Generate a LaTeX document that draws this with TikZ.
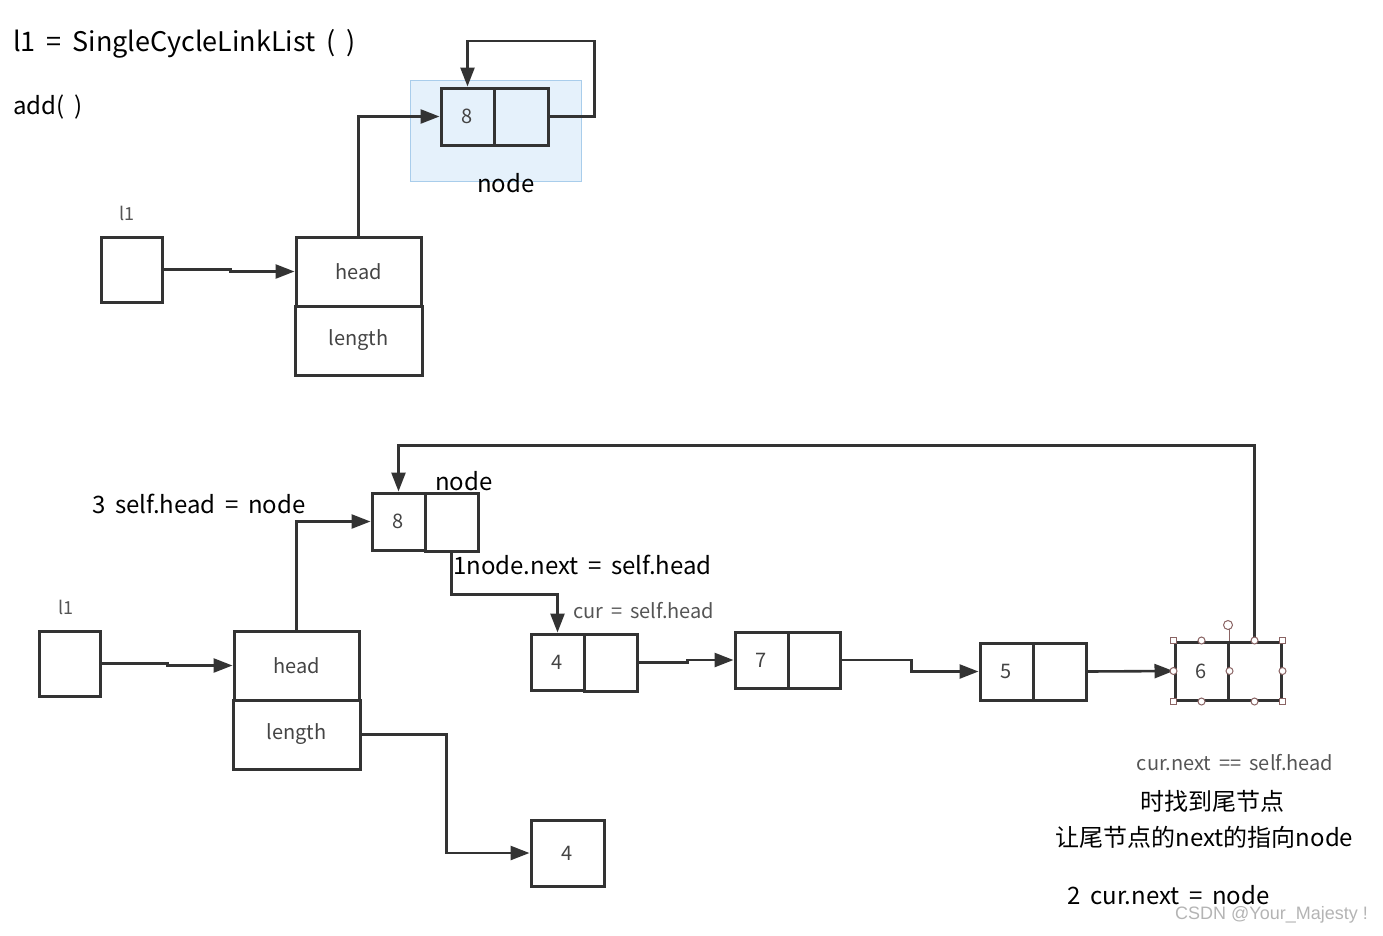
\documentclass[tikz,border=0pt]{standalone}
\usepackage{fontspec}
\setmainfont[WordSpace=1.8]{Noto Sans CJK SC}
\newfontfamily\wmfont{Liberation Sans}
\usetikzlibrary{arrows.meta,calc}
\definecolor{ln}{HTML}{333333}
\definecolor{tx}{HTML}{444444}
\definecolor{gr}{HTML}{555555}
\definecolor{hl}{HTML}{E5F1FB}
\definecolor{hlb}{HTML}{A9CDEB}
\definecolor{hd}{HTML}{8A6464}
\definecolor{wm}{HTML}{B4B4B4}
\begin{document}
\begin{tikzpicture}[x=1pt,y=-1pt,
  cell/.style={draw=ln,line width=3pt,inner sep=0pt,text=tx,font=\fontsize{20}{24}\selectfont},
  arr/.style={draw=ln,line width=2.6pt,-{Triangle[length=19pt,width=14pt]}},
  big/.style={inner sep=0pt,font=\fontsize{24}{28}\selectfont},
  small/.style={inner sep=0pt,text=gr,font=\fontsize{20}{24}\selectfont},
  hsq/.style={draw=hd,fill=white,line width=1pt,minimum size=6pt,inner sep=0pt},
  hci/.style={draw=hd,fill=white,line width=1pt,circle,minimum size=7pt,inner sep=0pt}]
\useasboundingbox (0,0) rectangle (1383,935);
% ---------- top part ----------
\fill[hl] (410,80) rectangle (581,181);
\draw[hlb,line width=1pt] (410,80) rectangle (581,181);
\node[big,anchor=west,font=\fontsize{27}{32}\selectfont] (title) at (13,44) {l1 = SingleCycleLinkList ( )};
\node[big,anchor=west] (add) at (13,107) {add( )};
\node[cell,minimum width=53pt,minimum height=57pt] (tn8a) at (467.5,116.5) {8};
\node[cell,minimum width=54pt,minimum height=57pt] (tn8b) at (521,116.5) {};
\node[big] (tnode) at (506,183) {node};
\node[small,font=\fontsize{18}{22}\selectfont] (tl1lab) at (127,213) {l1};
\node[cell,minimum width=61pt,minimum height=65pt] (tl1) at (131.5,269.5) {};
\node[cell,minimum width=125pt,minimum height=69pt] (thead) at (358.5,271.5) {head};
\node[cell,minimum width=127pt,minimum height=69pt] (tlen) at (358.5,340.5) {length};
\draw[arr] (tl1.east) -- ++(67,0) |- (thead.west);
\draw[arr] (thead.north) |- (tn8a.west);
\draw[arr] (tn8b.east) -- ++(45,0) -- ++(0,-75.5) -| (tn8a.north);
% ---------- bottom part ----------
\node[big] (bnode) at (464,481) {node};
\node[big] (step3) at (199,504) {3 self.head = node};
\node[cell,minimum width=53pt,minimum height=57pt] (bn8a) at (398.5,521.5) {8};
\node[cell,minimum width=53pt,minimum height=58pt] (bn8b) at (451.5,522) {};
\node[small,font=\fontsize{18}{22}\selectfont] (bl1lab) at (66,607) {l1};
\node[cell,minimum width=61pt,minimum height=65pt] (bl1) at (69.5,663.5) {};
\node[cell,minimum width=125pt,minimum height=69pt] (bhead) at (296.5,665.5) {head};
\node[cell,minimum width=127pt,minimum height=69pt] (blen) at (296.5,734.5) {length};
\node[big,anchor=west] (step1) at (453,565) {1node.next = self.head};
\node[small,anchor=west] (curlab) at (573,611) {cur = self.head};
\node[cell,minimum width=53pt,minimum height=56pt] (n4a) at (557.5,662) {4};
\node[cell,minimum width=53pt,minimum height=57pt] (n4b) at (610.5,662.5) {};
\node[cell,minimum width=53pt,minimum height=56pt] (n7a) at (761.5,660) {7};
\node[cell,minimum width=52pt,minimum height=56pt] (n7b) at (814,660) {};
\node[cell,minimum width=53pt,minimum height=57pt] (n5a) at (1006.5,671.5) {5};
\node[cell,minimum width=53pt,minimum height=57pt] (n5b) at (1059.5,671.5) {};
\node[cell,minimum width=53pt,minimum height=58pt] (n6a) at (1201.5,671) {6};
\node[cell,minimum width=53pt,minimum height=58pt] (n6b) at (1254.5,671) {};
\node[cell,minimum width=73pt,minimum height=66pt] (box4) at (567.5,853) {4};
\draw[arr] (bl1.east) -- ++(66,0) |- (bhead.west);
\draw[arr] (bhead.north) |- (bn8a.west);
\draw[arr] (bn8b.south) -- ++(0,42) -| (n4a.north);
\draw[arr] (n4b.east) -- ++(49,0) |- (n7a.west);
\draw[arr] (n7b.east) -- ++(70,0) |- (n5a.west);
\draw[arr] (n5b.east) -- (n6a.west);
\draw[arr] (blen.east) -- ++(85,0) |- (box4.west);
\draw[arr] (n6b.north) -- ++(0,-195) -| (bn8a.north);
% selection handles on node 6
\draw[hd,line width=1pt] (n6a.north east) -- ++(0,-12);
\node[hci,minimum size=9pt] (rot) at (1228,625) {};
\foreach \p in {(n6a.north west),(n6b.north east),(n6a.south west),(n6b.south east)}
  \node[hsq] at \p {};
\foreach \p in {(n6a.north),(n6b.north),(n6a.south),(n6b.south),(n6a.west),(n6a.east),(n6b.east)}
  \node[hci] at \p {};
% notes
\node[small,font=\fontsize{20}{24}\selectfont] (note1) at (1235,763) {cur.next == self.head};
\node[big] (note2) at (1212,801) {时找到尾节点};
\node[big] (note3) at (1204.5,837) {让尾节点的next的指向node};
\node[big,anchor=west] (step2) at (1067,895) {2 cur.next = node};
\node[inner sep=0pt,anchor=east,text=wm,font=\wmfont\fontsize{18}{22}\selectfont] (wmark) at (1368,915) {CSDN @Your\_Majesty !};
\end{tikzpicture}
\end{document}
